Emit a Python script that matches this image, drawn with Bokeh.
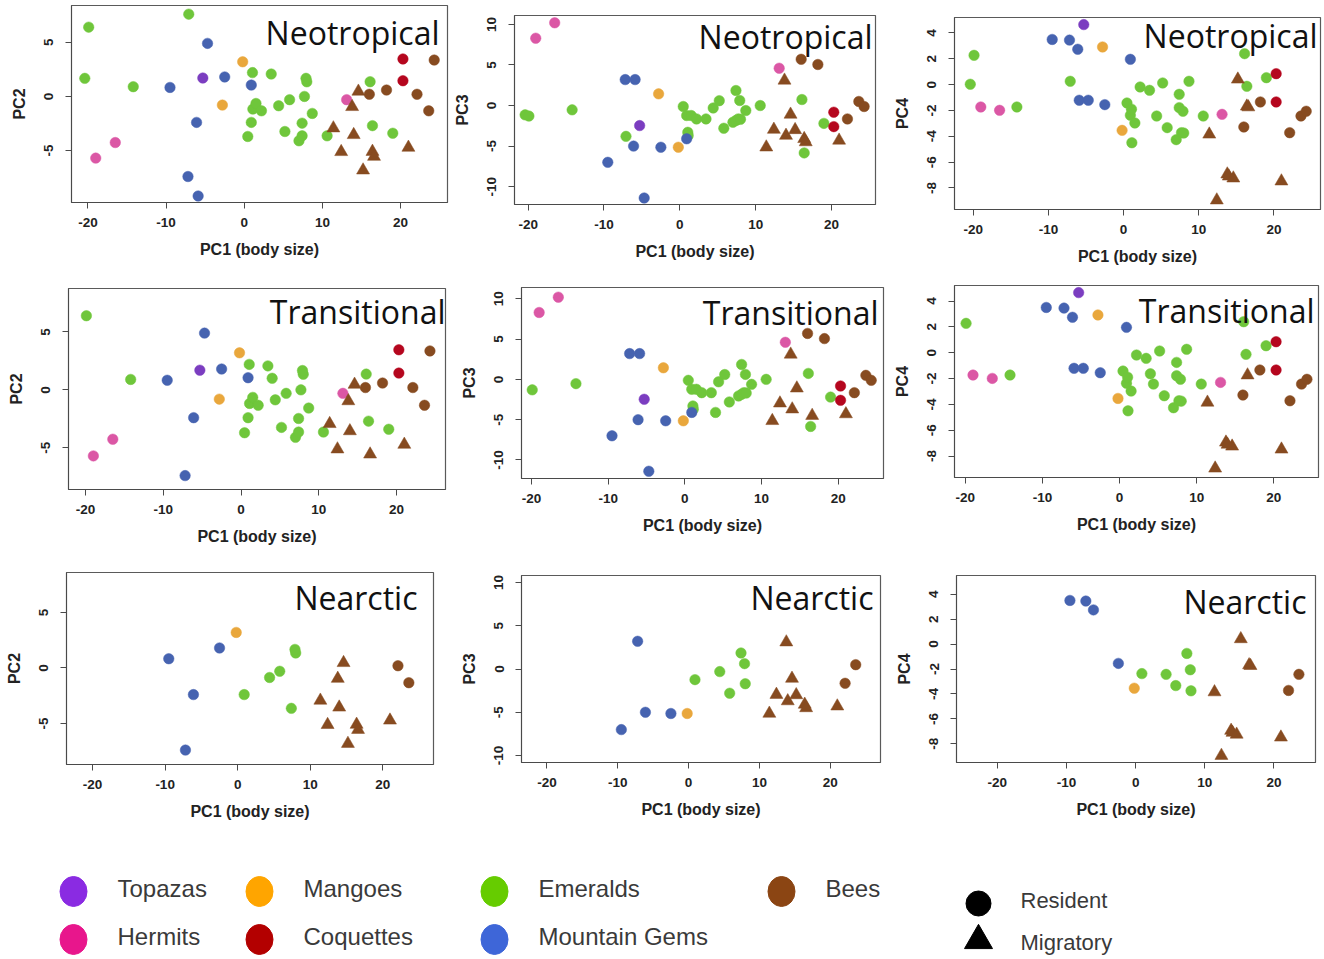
import numpy as np
from bokeh.plotting import figure
from bokeh.layouts import column, row
from bokeh.models import Range1d, FixedTicker, Label
from bokeh.core.properties import value
from bokeh.embed import file_html
from bokeh.resources import INLINE

# ---------------------------------------------------------------------------
# Species scores on the first four principal components, with clade,
# movement habit and presence in each biogeographic region (1 = present).
# ---------------------------------------------------------------------------
group = (["Emeralds"] * 26 + ["Mountain Gems"] * 7 + ["Topazas"] + ["Mangoes"] * 2
         + ["Hermits"] * 3 + ["Coquettes"] * 2 + ["Bees"] * 14)
habit = ["Resident"] * 46 + ["Migratory"] * 9

pc1 = [-20.4, -19.9, -14.2, -7.1, 0.45, 0.9, 1.05, 1.1, 1.5, 2.2, 3.45, 4.0, 4.4,
       5.2, 5.8, 7.0, 7.4, 7.4, 7.7, 8.0, 7.9, 8.7, 10.6, 16.1, 16.4, 19.0,
       -9.5, -7.2, -6.1, -5.9, -4.7, -2.5, 0.9,
       -5.3,
       -2.8, -0.2,
       -19.0, -16.5, 13.1,
       20.3, 20.3,
       16.0, 18.2, 22.1, 23.6, 24.3,
       11.4, 12.4, 13.8, 14.0, 14.6, 15.2, 16.4, 16.6, 21.0]
pc2 = [1.67, 6.4, 0.9, 7.6, -3.7, -2.4, 2.2, -1.17, -0.65, -1.33, 2.07, 1.0, -0.86,
       -3.24, -0.3, -4.1, -3.64, -2.47, 0.0, 1.35, 1.67, -1.57, -3.64, 1.36, -2.7, -3.4,
       0.83, -7.4, -2.4, -9.2, 4.9, 1.8, 1.05,
       1.7,
       -0.8, 3.2,
       -5.7, -4.26, -0.3,
       3.46, 1.45,
       0.2, 0.59, 0.2, -1.33, 3.36,
       -2.93, -5.12, -0.96, -3.55, 0.46, -6.82, -5.1, -5.56, -4.72]
pc3 = [-1.15, -1.3, -0.53, -3.8, -0.12, -1.23, -3.3, -3.7, -1.23, -1.65, -1.65, -4.1, -0.3,
       0.6, -2.8, -2.06, 1.85, -1.85, -1.65, -1.7, 0.62, -0.62, 0.0, 0.74, -5.84, -2.2,
       -7.0, 3.2, -5.0, 3.2, -11.4, -5.14, -4.1,
       -2.47,
       1.44, -5.14,
       8.3, 10.2, 4.6,
       -0.82, -2.6,
       5.7, 5.06, -1.65, 0.5, -0.12,
       -5.14, -2.96, 3.1, -3.7, -1.1, -3.0, -4.1, -4.5, -4.3]
pc4 = [0.03, 2.27, -1.73, 0.26, -1.42, -2.37, -1.9, -4.5, -2.97, -0.18, -0.44, -1.63, -2.43,
       0.13, -3.33, -4.26, -0.75, -1.78, -3.72, -3.75, -2.06, 0.26, -2.43, 2.4, -0.13, 0.54,
       3.5, 3.45, 2.74, -1.21, -1.21, -1.55, 1.96,
       4.65,
       2.92, -3.54,
       -1.73, -1.99, -2.3,
       0.85, -1.34,
       -3.28, -1.34, -3.72, -2.43, -2.06,
       -3.85, -8.95, -6.94, -7.1, -7.25, 0.41, -1.68, -1.74, -7.48]

neotropical = ([1] * 11 + [0] + [1] * 14
               + [1] * 7 + [1] + [1] * 2 + [1] * 3 + [1] * 2 + [1] * 5 + [1] * 9)
transitional = ([0, 1, 1, 0] + [1] * 22
                + [1] * 7 + [1] + [1] * 2 + [1] * 3 + [1] * 2 + [1] * 5
                + [1, 1, 1, 1, 1, 0, 0, 1, 1])
nearctic = ([0, 0, 0, 0, 0, 1, 0, 0, 0, 0, 0, 0, 1, 0, 1, 0, 1, 0, 0, 1, 1, 0, 0, 0, 0, 0]
            + [1, 1, 1, 0, 0, 1, 0] + [0] + [0, 1] + [0, 0, 0] + [0, 0]
            + [0, 0, 1, 1, 0] + [1] * 9)

regions = ["Neotropical", "Transitional", "Nearctic"]
presence = {"Neotropical": neotropical, "Transitional": transitional, "Nearctic": nearctic}
components = {"PC2": pc2, "PC3": pc3, "PC4": pc4}

x_ticks = [-20, -10, 0, 10, 20]
y_ticks = {"PC2": [-5, 0, 5], "PC3": [-10, -5, 0, 5, 10], "PC4": [-8, -6, -4, -2, 0, 2, 4]}

# legend
legend_groups = ["Topazas", "Hermits", "Mangoes", "Coquettes", "Emeralds", "Mountain Gems", "Bees"]
habit_labels = ["Resident", "Migratory"]

# ---------------------------------------------------------------------------
# Styling
# ---------------------------------------------------------------------------
point_colors = {"Topazas": "#7b3dc0", "Hermits": "#db57a5", "Mangoes": "#e9a73c",
                "Coquettes": "#b5061e", "Emeralds": "#6fc63b", "Mountain Gems": "#4663b0",
                "Bees": "#874b20"}
swatch_colors = {"Topazas": "#8a2be2", "Hermits": "#e8168c", "Mangoes": "#ffa500",
                 "Coquettes": "#b30000", "Emeralds": "#66cc00", "Mountain Gems": "#3e66d8",
                 "Bees": "#8b4513"}

AXIS_FONT = "Liberation Sans"
TITLE_FONT = "Open Sans"

# per-panel layout: (width, height, borders l/r/t/b, x range, y range, title dx/dy)
panel_layout = {
    ("Neotropical", "PC2"): (450, 275, (71, 3, 5, 73), (-22.1, 26.0), (-9.8, 8.4), (8, 27)),
    ("Neotropical", "PC3"): (440, 275, (64, 15, 15, 71), (-21.8, 25.8), (-12.2, 11.1), (3, 21)),
    ("Neotropical", "PC4"): (434, 275, (63, 4, 17, 66), (-22.5, 26.2), (-9.67, 5.2), (3, 18)),
    ("Transitional", "PC2"): (450, 285, (68, 5, 13, 71), (-22.2, 26.3), (-8.6, 8.75), (0, 23)),
    ("Transitional", "PC3"): (440, 285, (71, 7, 12, 82), (-21.3, 25.9), (-12.3, 11.4), (5, 25)),
    ("Transitional", "PC4"): (434, 285, (63, 6, 10, 83), (-21.4, 25.8), (-9.66, 5.2), (4, 25)),
    ("Nearctic", "PC2"): (450, 280, (66, 17, 12, 76), (-23.6, 27.0), (-8.7, 8.6), (16, 25)),
    ("Nearctic", "PC3"): (440, 280, (71, 10, 15, 78), (-23.6, 27.1), (-10.8, 10.8), (7, 22)),
    ("Nearctic", "PC4"): (434, 280, (66, 9, 15, 78), (-25.9, 26.0), (-9.5, 5.5), (9, 26)),
}


def tick_text(ticks):
    # plain hyphen-minus for negative tick values
    return {t: str(t) for t in ticks}


def make_panel(region, comp):
    w, h, (bl, br, bt, bb), xr, yr, (tdx, tdy) = panel_layout[(region, comp)]
    p = figure(width=w, height=h, x_range=Range1d(*xr), y_range=Range1d(*yr),
               output_backend="svg", toolbar_location=None,
               min_border_left=bl, min_border_right=br, min_border_top=bt,
               min_border_bottom=bb)
    p.grid.visible = False
    p.outline_line_color = "#5a5a5a"
    p.outline_line_width = 1.2
    p.background_fill_color = "white"
    p.border_fill_color = "white"

    keep = np.array(presence[region]) == 1
    yvals = np.array(components[comp])
    hb = np.array(habit)
    x = np.array(pc1)
    cols = np.array([point_colors[k] for k in group])

    res = keep & (hb == "Resident")
    mig = keep & (hb == "Migratory")
    p.scatter(x=x[res], y=yvals[res], marker="circle", size=10.5,
              fill_color=cols[res], line_color=cols[res], line_width=0.5)
    p.scatter(x=x[mig], y=yvals[mig], marker="triangle", size=13,
              fill_color=cols[mig], line_color=cols[mig], line_width=0.5)

    for ax in (p.xaxis, p.yaxis):
        ax.axis_line_color = "#4a4a4a"
        ax.major_tick_line_color = "#4a4a4a"
        ax.minor_tick_line_color = None
        ax.major_tick_in = 0
        ax.major_tick_out = 6
        ax.major_label_text_font = AXIS_FONT
        ax.major_label_text_font_style = "bold"
        ax.major_label_text_font_size = "13.5px"
        ax.major_label_text_color = "#222222"
        ax.axis_label_text_font = AXIS_FONT
        ax.axis_label_text_font_style = "bold"
        ax.axis_label_text_font_size = "16px"
        ax.axis_label_text_color = "#222222"
    p.xaxis.major_label_standoff = 9
    p.xaxis.axis_label_standoff = 11
    p.yaxis.major_label_standoff = 12
    p.yaxis.axis_label_standoff = 14
    p.xaxis.ticker = FixedTicker(ticks=x_ticks)
    p.yaxis.ticker = FixedTicker(ticks=y_ticks[comp])
    p.xaxis.major_label_overrides = tick_text(x_ticks)
    p.yaxis.major_label_overrides = tick_text(y_ticks[comp])
    p.xaxis.axis_label = "PC1 (body size)"
    p.yaxis.axis_label = comp
    p.yaxis.major_label_orientation = "vertical"

    p.add_layout(Label(x=xr[1], y=yr[1], x_offset=-tdx, y_offset=-tdy, text=region,
                       text_align="right", text_baseline="alphabetic",
                       text_font=TITLE_FONT, text_font_size="32px",
                       text_color="#111111"))
    return p


rows = []
for region in regions:
    cells = [column(make_panel(region, c), spacing=0) for c in ["PC2", "PC3", "PC4"]]
    rows.append(row(*cells, spacing=0))

# ---------------------------------------------------------------------------
# Legend strip
# ---------------------------------------------------------------------------
LW, LH = 1324, 119
leg = figure(width=LW, height=LH, x_range=Range1d(0, LW), y_range=Range1d(0, LH),
             output_backend="svg", toolbar_location=None,
             min_border_left=0, min_border_right=0, min_border_top=0, min_border_bottom=0)
leg.axis.visible = False
leg.grid.visible = False
leg.outline_line_color = None

col_x = [73, 259, 494, 781]
row_y = [LH - 51, LH - 99]
sw_x, sw_y, tx, ty = [], [], [], []
for i, name in enumerate(legend_groups):
    cx = col_x[i // 2]
    cy = row_y[i % 2]
    sw_x.append(cx)
    sw_y.append(cy)
    tx.append(cx + 44)
    ty.append(cy + 3)
leg.ellipse(x=sw_x, y=sw_y, width=27, height=30,
            fill_color=[swatch_colors[k] for k in legend_groups],
            line_color=[swatch_colors[k] for k in legend_groups])
leg.text(x=tx, y=ty, text=legend_groups, text_font=value(AXIS_FONT),
         text_font_size=value("24px"), text_baseline="middle", text_align="left",
         text_color="#3a3a3a")

hx = 978
hy = [LH - 63, LH - 102]
leg.scatter(x=[hx], y=[hy[0]], marker="circle", size=25, color="black")
leg.scatter(x=[hx], y=[hy[1] + 2], marker="triangle", size=28, color="black")
leg.text(x=[hx + 42, hx + 42], y=[hy[0] + 3, hy[1]], text=habit_labels,
         text_font=value(AXIS_FONT), text_font_size=value("22px"),
         text_baseline="middle", text_align="left", text_color="#3a3a3a")

layout = column(*rows, leg, spacing=0)
open("out.html", "w").write(file_html(layout, INLINE))
